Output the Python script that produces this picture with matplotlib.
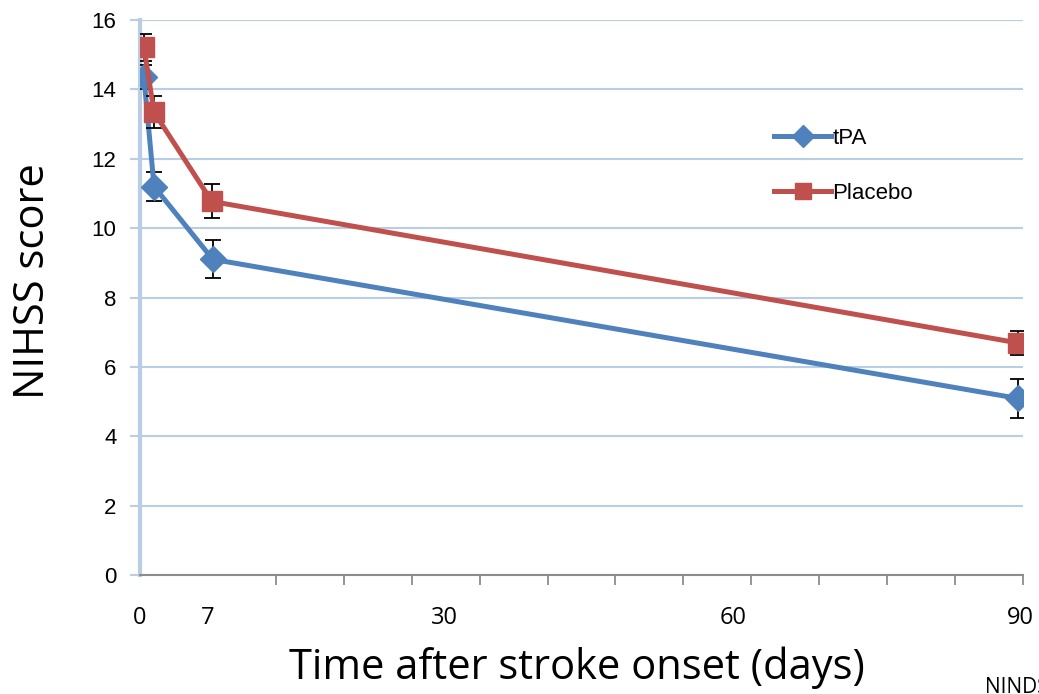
import matplotlib.pyplot as plt
from matplotlib.lines import Line2D
import numpy as np

# days after stroke onset
days_tpa = [0.4, 1.45, 7.5, 90.5]
days_placebo = [0.4, 1.45, 7.4, 90.5]

# mean NIHSS score and error bar half-widths
nihss_tpa = [14.36, 11.2, 9.1, 5.09]
err_tpa = [0.35, 0.41, 0.55, 0.56]
nihss_placebo = [15.22, 13.34, 10.77, 6.69]
err_placebo = [0.39, 0.46, 0.49, 0.35]

# x axis: tick marks each week, labels only at a few days
tick_marks = np.arange(0, 92, 7)
label_days = [0, 7, 30, 60, 90]
label_pos = [0, 7, 31.4, 61.1, 90.7]

blue = '#4F81BD'
red = '#C0504D'
grid_blue = '#B9CDE5'

fig = plt.figure(figsize=(10.39, 6.94), dpi=100)
ax = fig.add_axes([140 / 1039, 1 - 575 / 694, 883 / 1039, 555 / 694])

ax.errorbar(days_tpa, nihss_tpa, yerr=err_tpa, color=blue, lw=3.6,
            marker='D', markersize=13, ecolor='black', elinewidth=1.3,
            capsize=6, capthick=1.3, zorder=3)
ax.errorbar(days_placebo, nihss_placebo, yerr=err_placebo, color=red, lw=3.6,
            marker='s', markersize=14, ecolor='black', elinewidth=1.3,
            capsize=6, capthick=1.3, zorder=4)

ax.set_xlim(0, 91)
ax.set_ylim(0, 16)
ax.set_yticks(np.arange(0, 17, 2))
ax.yaxis.grid(True, color=grid_blue, lw=1.5)
ax.set_axisbelow(True)

# week tick marks (unlabelled) + free-placed day labels
ax.set_xticks(tick_marks, minor=True)
ax.set_xticks(label_pos)
ax.set_xticklabels([str(d) for d in label_days], fontfamily='Open Sans', fontsize=17)
ax.tick_params(axis='x', which='major', length=0, pad=22)
ax.tick_params(axis='x', which='minor', length=7, width=1.3, color='#8C8C8C')
ax.tick_params(axis='y', length=7, width=1.5, color=grid_blue, pad=10, labelsize=16)
for lab in ax.get_yticklabels():
    lab.set_fontfamily('Liberation Sans')

for s in ['top', 'right']:
    ax.spines[s].set_visible(False)
ax.spines['left'].set_color(grid_blue)
ax.spines['left'].set_linewidth(3)
ax.spines['bottom'].set_color('#8C8C8C')
ax.spines['bottom'].set_linewidth(1.5)

ax.set_xlabel('Time after stroke onset (days)', fontfamily='Open Sans', fontsize=30)
ax.xaxis.set_label_coords(0.495, -0.128)
ax.set_ylabel('NIHSS score', fontfamily='Open Sans', fontsize=30)
ax.yaxis.set_label_coords(-0.097, 0.53)

handles = [Line2D([], [], color=blue, lw=3.6, marker='D', markersize=11),
           Line2D([], [], color=red, lw=3.6, marker='s', markersize=12)]
ax.legend(handles, ['tPA', 'Placebo'], loc='upper left',
          bbox_to_anchor=(0.695, 0.842), frameon=False,
          prop={'family': 'Liberation Sans', 'size': 16},
          handlelength=2.6, handletextpad=0.05, labelspacing=1.55)

fig.text(985 / 1039, 1 - 677 / 694, 'NINDS', fontfamily='Open Sans', fontsize=15,
         ha='left', va='top')

fig.savefig('out.png', dpi=100)
